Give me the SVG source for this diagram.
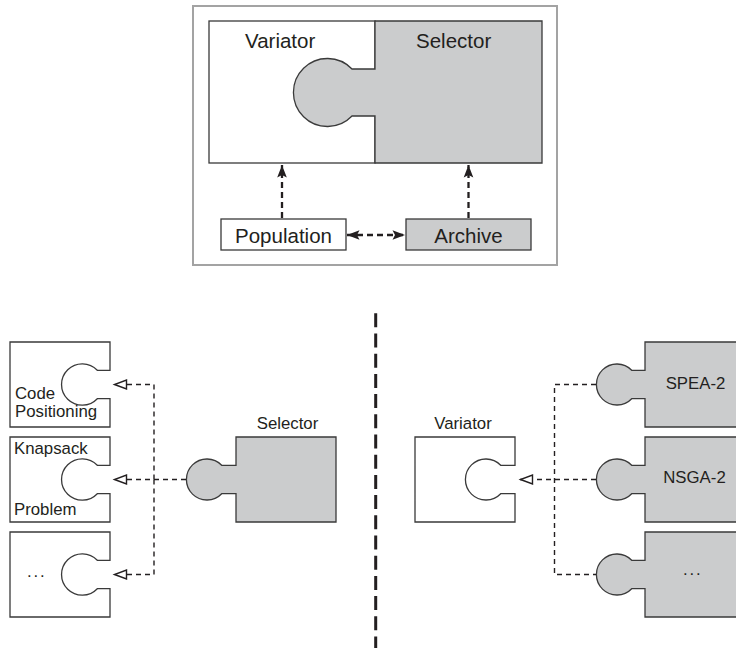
<svg xmlns="http://www.w3.org/2000/svg" width="736" height="648" viewBox="0 0 736 648">
  <style>
    .frame { fill: none; stroke: #a3a3a3; stroke-width: 2; }
    .white { fill: #ffffff; stroke: #3a3a3a; stroke-width: 1.3; }
    .gray { fill: #cbcccd; stroke: #3a3a3a; stroke-width: 1.3; }
    .big { font-family: "Liberation Sans", Arial, Helvetica, sans-serif; font-size: 20.5px; fill: #231f20; }
    .lbl { font-family: "Liberation Sans", Arial, Helvetica, sans-serif; font-size: 16.8px; fill: #231f20; }
    .dots { letter-spacing: 1.8px; }
    .thick { fill: none; stroke: #231f20; stroke-width: 2.3; stroke-dasharray: 6 4; }
    .thin { fill: none; stroke: #231f20; stroke-width: 1.4; stroke-dasharray: 5 4; }
    .divider { fill: none; stroke: #231f20; stroke-width: 3; stroke-dasharray: 14 6.2; }
  </style>
  <defs>
    <marker id="solid" markerUnits="userSpaceOnUse" viewBox="-14 -6 16 12" refX="0" refY="0" markerWidth="16" markerHeight="12" orient="auto-start-reverse" overflow="visible">
      <path d="M0,0 L-12.5,-4.8 L-10,0 L-12.5,4.8 Z" fill="#231f20"/>
    </marker>
    <marker id="open" markerUnits="userSpaceOnUse" viewBox="-14 -6 16 12" refX="0" refY="0" markerWidth="16" markerHeight="12" orient="auto" overflow="visible">
      <path d="M-0.5,0 L-12.5,-4.5 L-12.5,4.5 Z" fill="#ffffff" stroke="#231f20" stroke-width="1.4" stroke-dasharray="none"/>
    </marker>
  </defs>

  <!-- framed overview -->
  <rect class="frame" x="193" y="6" width="364" height="259"/>

  <g id="variator-top">
    <rect class="white" x="209" y="21" width="166" height="142"/>
    <text class="big" x="245" y="48">Variator</text>
  </g>
  <g id="selector-top">
    <path class="gray" d="M375,21 H542 V163 H375 V116 H352 A34,34 0 1 1 352,69 H375 Z"/>
    <text class="big" x="416" y="48">Selector</text>
  </g>
  <g id="population">
    <rect class="white" x="221" y="219" width="125" height="31"/>
    <text class="big" x="283.5" y="243" text-anchor="middle">Population</text>
  </g>
  <g id="archive">
    <rect class="gray" x="406" y="219" width="125" height="31"/>
    <text class="big" x="468.5" y="243" text-anchor="middle">Archive</text>
  </g>

  <!-- vertical divider -->
  <line class="divider" x1="375.7" y1="313.3" x2="375.7" y2="648"/>

  <!-- problem pieces with sockets -->
  <g id="code-positioning">
    <path class="white" d="M10,342 H110 V370.3 H97.3 A20.7,20.7 0 1 0 97.3,398.7 H110 V427 H10 Z"/>
    <text class="lbl" x="15" y="399">Code</text>
    <text class="lbl" x="15" y="417">Positioning</text>
  </g>
  <g id="knapsack">
    <path class="white" d="M10,437 H110 V465.3 H97.3 A20.7,20.7 0 1 0 97.3,493.7 H110 V522 H10 Z"/>
    <text class="lbl" x="14" y="454">Knapsack</text>
    <text class="lbl" x="14" y="515">Problem</text>
  </g>
  <g id="problem-more">
    <path class="white" d="M10,532 H110 V560.3 H97.3 A20.7,20.7 0 1 0 97.3,588.7 H110 V617 H10 Z"/>
    <text class="lbl dots" x="27" y="577">...</text>
  </g>

  <g id="selector-piece">
    <path class="gray" d="M236,437 H336 V522 H236 V493.7 H221.7 A20.5,20.5 0 1 1 221.7,465.3 H236 Z"/>
    <text class="lbl" x="287.5" y="429" text-anchor="middle">Selector</text>
  </g>

  <g id="variator-piece">
    <path class="white" d="M415,437 H515 V465.3 H500.7 A20.5,20.5 0 1 0 500.7,493.7 H515 V522 H415 Z"/>
    <text class="lbl" x="463" y="429" text-anchor="middle">Variator</text>
  </g>

  <!-- selector variants with plugs -->
  <g id="spea2">
    <path class="gray" d="M645,342 H740 V427 H645 V398.7 H631.7 A20.5,20.5 0 1 1 631.7,370.3 H645 Z"/>
    <text class="lbl" x="695.5" y="389" text-anchor="middle">SPEA-2</text>
  </g>
  <g id="nsga2">
    <path class="gray" d="M645,437 H740 V522 H645 V493.7 H631.7 A20.5,20.5 0 1 1 631.7,465.3 H645 Z"/>
    <text class="lbl" x="694.5" y="482.5" text-anchor="middle">NSGA-2</text>
  </g>
  <g id="selector-more">
    <path class="gray" d="M645,532 H740 V617 H645 V588.7 H631.7 A20.5,20.5 0 1 1 631.7,560.3 H645 Z"/>
    <text class="lbl dots" x="683" y="575">...</text>
  </g>

  <g id="connectors">
    <!-- overview -->
    <path class="thick" d="M282,218 V165" marker-end="url(#solid)"/>
    <path class="thick" d="M468.5,218 V165" marker-end="url(#solid)"/>
    <path class="thick" d="M347,235 H405" marker-start="url(#solid)" marker-end="url(#solid)"/>
    <!-- selector to problems -->
    <path class="thin" d="M186,479.5 H114" marker-end="url(#open)"/>
    <path class="thin" d="M154,479.5 V384.5 H114" marker-end="url(#open)"/>
    <path class="thin" d="M154,479.5 V574.5 H114" marker-end="url(#open)"/>
    <!-- selectors to variator -->
    <path class="thin" d="M596,384.5 H554.5 V574.5 H596"/>
    <path class="thin" d="M596,479.5 H520" marker-end="url(#open)"/>
  </g>
</svg>
